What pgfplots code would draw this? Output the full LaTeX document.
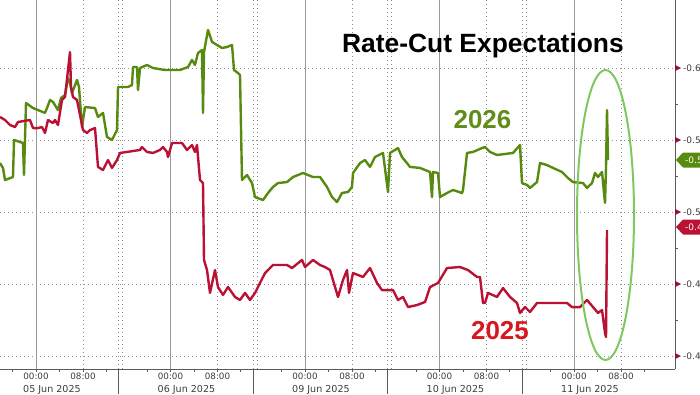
\documentclass[border=0pt]{standalone}
\usepackage{pgfplots}
\pgfplotsset{compat=1.18}
\usepackage{fontspec}
\setmainfont{Liberation Sans}
\newfontfamily\dv{DejaVu Sans}
\definecolor{gline}{RGB}{88,138,16}
\definecolor{rline}{RGB}{186,18,52}
\definecolor{gtxt}{RGB}{96,140,24}
\definecolor{rtxt}{RGB}{214,24,30}
\definecolor{ell}{RGB}{125,200,95}
\definecolor{gridc}{RGB}{140,140,140}
\definecolor{axc}{RGB}{90,90,90}
\definecolor{tickc}{RGB}{60,60,60}
\definecolor{trc}{RGB}{150,20,50}
\begin{document}
\begin{tikzpicture}
\begin{scope}[x=1bp,y=-1bp,yshift=369bp]
 \foreach \y in {68,140,212,284,356} \draw[gridc, line width=0.7bp, dash pattern=on 1bp off 3bp] (0,\y)--(675,\y);
 \foreach \x in {83,217.5,352,486.5,621,118.7,122.7,253.2,257.2,387.7,391.7,522.2,526.2} \draw[gridc, line width=0.7bp, dash pattern=on 1bp off 3bp] (\x,0)--(\x,369);
 \foreach \x in {36,170.5,305,439.5,574} \draw[gray!80, line width=0.8bp] (\x,0)--(\x,369);
\end{scope}
\begin{axis}[scale only axis, width=675bp, height=369bp, at={(0,0)}, anchor=south west,
 xmin=0, xmax=675, ymin=-0.647222, ymax=-0.390972, y dir=reverse,
 axis x line*=bottom, axis y line*=right,
 axis line style={axc, line width=0.8bp, -},
 xtick={36,83,170.5,217.5,305,352,439.5,486.5,574,621},
 xticklabels={00:00,08:00,00:00,08:00,00:00,08:00,00:00,08:00,00:00,08:00},
 minor xtick={12.6,59.4,106.2,147.1,193.9,240.7,281.6,328.4,375.2,416.1,462.9,509.7,550.6,597.4,644.2},
 ytick={-0.60,-0.55,-0.50,-0.45,-0.40},
 yticklabels={-0.60,-0.55,-0.50,-0.45,-0.40},
 minor ytick={-0.575,-0.525,-0.475,-0.425},
 tick align=outside, major tick length=3bp, minor tick length=3bp,
 tick style={axc, line width=0.7bp},
 every major y tick/.append style={draw=none},
 xticklabel style={font=\dv\fontsize{8.8}{10}\selectfont, text=tickc, inner sep=1bp},
 yticklabel style={font=\dv\fontsize{9}{10}\selectfont, text=tickc, anchor=west, inner sep=0pt, xshift=5bp},
 clip=false]
\addplot[gline, line width=2.4bp, line join=round] coordinates {
(0,-0.5340) (3,-0.5306) (5,-0.5222) (13,-0.5243) (14,-0.5500) (23,-0.5479) (24,-0.5257) (26,-0.5757)
(33,-0.5722) (38,-0.5708) (45,-0.5688) (47,-0.5722) (50,-0.5778) (53,-0.5764) (58,-0.5708) (61,-0.5792)
(65,-0.5813) (68,-0.5931) (70,-0.5896) (72,-0.5826) (77,-0.5917) (79,-0.5868) (82,-0.5590) (85,-0.5729)
(95,-0.5722) (98,-0.5660) (103,-0.5688) (107,-0.5521) (112,-0.5500) (117,-0.5569) (118,-0.5868) (128,-0.5868)
(132,-0.5882) (133,-0.6007) (137,-0.6007) (138,-0.5847) (140,-0.6000) (147,-0.6021) (153,-0.6000) (165,-0.5986)
(180,-0.5986) (188,-0.6007) (192,-0.6056) (195,-0.6021) (198,-0.6104) (202,-0.6125) (203,-0.5688) (204,-0.6111)
(208,-0.6264) (212,-0.6181) (217,-0.6160) (222,-0.6139) (227,-0.6146) (232,-0.6160) (234,-0.5986) (238,-0.5965)
(240,-0.5951) (242,-0.5222) (245,-0.5243) (247,-0.5257) (252,-0.5201) (255,-0.5104) (263,-0.5083) (268,-0.5132)
(273,-0.5174) (278,-0.5201) (287,-0.5208) (293,-0.5243) (303,-0.5271) (313,-0.5243) (320,-0.5243) (327,-0.5174)
(332,-0.5104) (337,-0.5069) (342,-0.5132) (348,-0.5139) (352,-0.5174) (353,-0.5271) (360,-0.5340) (365,-0.5361)
(370,-0.5313) (375,-0.5382) (383,-0.5410) (388,-0.5139) (390,-0.5410) (398,-0.5444) (402,-0.5382) (410,-0.5313)
(420,-0.5306) (430,-0.5278) (432,-0.5104) (433,-0.5278) (438,-0.5271) (440,-0.5104) (447,-0.5132) (453,-0.5153)
(462,-0.5132) (463,-0.5153) (467,-0.5410) (473,-0.5417) (482,-0.5444) (485,-0.5451) (490,-0.5417) (497,-0.5396)
(513,-0.5410) (520,-0.5465) (522,-0.5201) (527,-0.5188) (530,-0.5167) (537,-0.5208) (540,-0.5340) (547,-0.5326)
(553,-0.5306) (562,-0.5278) (568,-0.5236) (573,-0.5208) (583,-0.5201) (587,-0.5167) (592,-0.5201) (595,-0.5271)
(598,-0.5243) (602,-0.5278) (604,-0.5132) (605,-0.5063) (606,-0.5313) (607,-0.5708) (608,-0.5361)
};
\addplot[rline, line width=2.4bp, line join=round] coordinates {
(0,-0.5660) (5,-0.5639) (10,-0.5604) (15,-0.5590) (18,-0.5625) (30,-0.5639) (33,-0.5583) (38,-0.5583)
(42,-0.5590) (45,-0.5549) (48,-0.5639) (53,-0.5618) (55,-0.5639) (58,-0.5604) (62,-0.5778) (65,-0.5799)
(70,-0.6111) (71,-0.5868) (73,-0.5799) (77,-0.5778) (83,-0.5569) (87,-0.5549) (90,-0.5569) (95,-0.5583)
(98,-0.5313) (103,-0.5292) (108,-0.5361) (112,-0.5306) (117,-0.5361) (120,-0.5410) (127,-0.5417) (140,-0.5431)
(142,-0.5451) (147,-0.5417) (153,-0.5410) (160,-0.5431) (163,-0.5451) (167,-0.5417) (168,-0.5382) (172,-0.5479)
(182,-0.5479) (187,-0.5431) (192,-0.5465) (195,-0.5417) (197,-0.5465) (200,-0.5222) (203,-0.5201) (204,-0.4667)
(207,-0.4597) (210,-0.4438) (215,-0.4597) (218,-0.4479) (223,-0.4424) (228,-0.4479) (235,-0.4410) (240,-0.4389)
(245,-0.4438) (250,-0.4389) (255,-0.4438) (260,-0.4507) (265,-0.4576) (273,-0.4632) (287,-0.4632) (292,-0.4611)
(302,-0.4667) (305,-0.4618) (313,-0.4667) (320,-0.4632) (325,-0.4618) (330,-0.4597) (338,-0.4410) (343,-0.4528)
(347,-0.4597) (349,-0.4438) (353,-0.4576) (363,-0.4549) (370,-0.4611) (377,-0.4507) (382,-0.4458) (393,-0.4458)
(398,-0.4389) (403,-0.4410) (408,-0.4340) (417,-0.4354) (425,-0.4375) (430,-0.4479) (438,-0.4507) (447,-0.4611)
(460,-0.4618) (468,-0.4597) (477,-0.4549) (480,-0.4549) (483,-0.4368) (485,-0.4368) (488,-0.4438) (497,-0.4410)
(503,-0.4472) (510,-0.4410) (517,-0.4368) (520,-0.4299) (525,-0.4340) (530,-0.4306) (537,-0.4368) (567,-0.4368)
(572,-0.4340) (580,-0.4340) (587,-0.4389) (593,-0.4340) (598,-0.4299) (602,-0.4319) (605,-0.4160) (606,-0.4132)
(607,-0.4875)
};
\end{axis}
\begin{scope}[x=1bp,y=-1bp,yshift=369bp]
 \foreach \y in {68,140,212,284,356} \fill[trc] (675,\y-3)--(681,\y)--(675,\y+3)--cycle;
 \foreach \x in {118.7,253.2,387.7,522.2} \draw[axc, line width=0.8bp] (\x,369)--(\x,394);
 \foreach \x/\d in {23/05 Jun 2025,157.5/06 Jun 2025,292/09 Jun 2025,426.5/10 Jun 2025,561/11 Jun 2025}
   \node[anchor=base west, inner sep=0pt, font=\dv\fontsize{9.6}{11}\selectfont, text=tickc] at (\x,392.5) {\d};
 \node[anchor=base, inner sep=0pt, font=\bfseries\fontsize{26.5}{28}\selectfont] at (483,52) {Rate-Cut Expectations};
 \node[inner sep=0pt, font=\bfseries\fontsize{26}{28}\selectfont, text=gtxt] at (482.5,120) {2026};
 \node[inner sep=0pt, font=\bfseries\fontsize{26}{28}\selectfont, text=rtxt] at (500,331) {2025};
 \draw[ell, line width=2bp] (605.5,215) ellipse [x radius=28.5, y radius=145];
 \fill[gline] (676,160)--(683,152.5)--(710,152.5)--(710,167.5)--(683,167.5)--cycle;
 \node[anchor=west, inner sep=0pt, text=white, font=\dv\fontsize{9}{10}\selectfont] at (685,160) {-0.536};
 \fill[rline] (676,227)--(683,219.5)--(710,219.5)--(710,234.5)--(683,234.5)--cycle;
 \node[anchor=west, inner sep=0pt, text=white, font=\dv\fontsize{9}{10}\selectfont] at (685,227) {-0.488};
 \pgfresetboundingbox
 \path[use as bounding box] (0,0) rectangle (700,394);
\end{scope}
\end{tikzpicture}
\end{document}
